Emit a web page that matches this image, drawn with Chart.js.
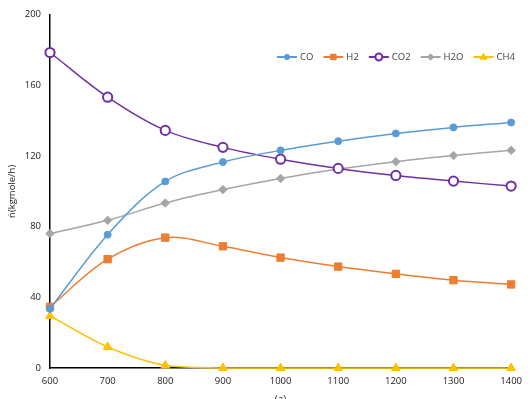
<!DOCTYPE html>
<html>
<head>
<meta charset="utf-8">
<script src="https://cdn.jsdelivr.net/npm/chart.js@4"></script>
<style>
html,body{margin:0;padding:0;background:#fff;}
#wrap{width:530px;height:399px;position:relative;}
</style>
</head>
<body>
<div id="wrap"><canvas id="c" width="530" height="399"></canvas></div>
<script>
const temps = [600, 700, 800, 900, 1000, 1100, 1200, 1300, 1400];
const co  = [33.5, 75.5, 105.6, 116.6, 123.2, 128.4, 132.8, 136.2, 139.0];
const h2  = [34.6, 61.6, 73.8, 68.9, 62.5, 57.4, 53.3, 49.7, 47.3];
const co2 = [178.6, 153.3, 134.5, 124.9, 118.2, 113.0, 109.0, 105.8, 103.0];
const h2o = [76.1, 83.6, 93.4, 101.0, 107.3, 112.6, 116.8, 120.3, 123.2];
const ch4 = [29.5, 11.9, 1.4, 0, 0, 0, 0, 0, 0];
const seriesNames = ['CO', 'H2', 'CO2', 'H2O', 'CH4'];
const yTicks = [0, 40, 80, 120, 160, 200];
const yTitle = 'ṅ(kgmole/h)';
const xTitle = '(a)';

const FONT = "'Open Sans', 'Liberation Sans', sans-serif";

function pts(arr){ return temps.map((t,i)=>({x:t,y:arr[i]})); }

const styles = [
  {color:'#5B9BD5', pointStyle:'circle', radius:3.5, bg:'#5B9BD5', bw:1},
  {color:'#ED7D31', pointStyle:'rect', radius:5.2, bg:'#ED7D31', bw:1},
  {color:'#7030A0', pointStyle:'circle', radius:4.6, bg:'#ffffff', bw:2},
  {color:'#A5A5A5', pointStyle:'rectRot', radius:4.2, bg:'#A5A5A5', bw:1},
  {color:'#FFC000', pointStyle:'triangle', radius:5, bg:'#FFC000', bw:1}
];
const allData = [co, h2, co2, h2o, ch4];

const datasets = allData.map((arr, i) => ({
  label: seriesNames[i],
  data: pts(arr),
  borderColor: styles[i].color,
  borderWidth: 1.5,
  tension: 0.35,
  pointStyle: styles[i].pointStyle,
  pointRadius: styles[i].radius,
  pointBackgroundColor: styles[i].bg,
  pointBorderColor: styles[i].color,
  pointBorderWidth: styles[i].bw,
  clip: false
}));

function drawMarker(ctx, style, x, y, r, bg, color, bw){
  ctx.save();
  ctx.fillStyle = bg; ctx.strokeStyle = color; ctx.lineWidth = bw;
  ctx.beginPath();
  if (style === 'circle') { ctx.arc(x, y, r, 0, Math.PI*2); }
  else if (style === 'rect') { const s = r*Math.SQRT1_2; ctx.rect(x-s, y-s, 2*s, 2*s); }
  else if (style === 'rectRot') { ctx.moveTo(x-r,y); ctx.lineTo(x,y-r); ctx.lineTo(x+r,y); ctx.lineTo(x,y+r); ctx.closePath(); }
  else if (style === 'triangle') { ctx.moveTo(x, y-r); ctx.lineTo(x+r*0.9, y+r*0.6); ctx.lineTo(x-r*0.9, y+r*0.6); ctx.closePath(); }
  ctx.fill(); ctx.stroke();
  ctx.restore();
}

const legendPlugin = {
  id: 'customLegend',
  afterDraw(chart){
    const ctx = chart.ctx;
    let x = 277; const y = 57;
    ctx.save();
    ctx.font = "9.5px " + FONT;
    ctx.textBaseline = 'middle';
    chart.data.datasets.forEach((ds, i) => {
      const st = styles[i];
      ctx.strokeStyle = ds.borderColor; ctx.lineWidth = 2;
      ctx.beginPath(); ctx.moveTo(x, y); ctx.lineTo(x+20, y); ctx.stroke();
      drawMarker(ctx, st.pointStyle, x+10, y, st.radius*0.75, st.bg, st.color, st.bw);
      ctx.fillStyle = '#404040';
      ctx.fillText(ds.label, x+23, y);
      x += 23 + ctx.measureText(ds.label).width + 10;
    });
    ctx.restore();
  }
};

new Chart(document.getElementById('c'), {
  type: 'line',
  data: { datasets },
  plugins: [legendPlugin],
  options: {
    responsive: false,
    animation: false,
    layout: { padding: { top: 14, right: 18, left: 0, bottom: 0 } },
    plugins: { legend: { display: false }, tooltip: { enabled: false } },
    scales: {
      x: {
        type: 'linear', min: 600, max: 1400,
        afterFit(s){ s.height = 31; },
        grid: { display: false, drawTicks: false },
        border: { display: true, color: '#000', width: 1.5 },
        ticks: { stepSize: 100, padding: 8, color: '#222', font: { family: FONT, size: 9.5 },
                 callback: (v) => String(v) },
        title: { display: true, text: xTitle, color: '#222', font: { family: FONT, size: 10 }, padding: { top: 0, bottom: -7 } }
      },
      y: {
        min: 0, max: 200,
        afterFit(s){ s.width = 50; },
        afterBuildTicks(s){ s.ticks = yTicks.map(v => ({value: v})); },
        grid: { display: false, drawTicks: false },
        border: { display: true, color: '#000', width: 1.5 },
        ticks: { padding: 9, color: '#222', font: { family: FONT, size: 9.5 } },
        title: { display: true, text: yTitle, color: '#222', font: { family: FONT, size: 9.5 }, padding: { top: 7, bottom: 0 } }
      }
    }
  }
});
</script>
</body>
</html>
